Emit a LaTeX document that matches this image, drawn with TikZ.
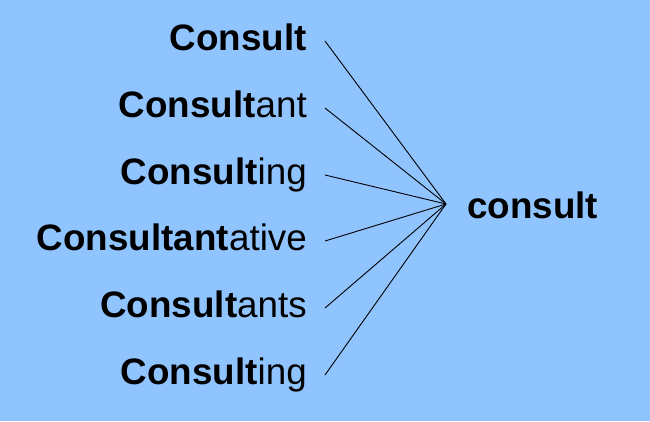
\documentclass[tikz,border=0pt]{standalone}
\usepackage{fontspec}
\setmainfont{Liberation Sans}
\definecolor{bgblue}{RGB}{144,196,255}
\begin{document}
\begin{tikzpicture}[x=1pt,y=-1pt,
  word/.style={anchor=base east,inner sep=0pt,font=\fontsize{36.8}{44}\selectfont},
  conn/.style={black,line width=0.9pt}]
\fill[bgblue] (0,0) rectangle (650,421);
\useasboundingbox (0,0) rectangle (650,421);
\node[word] (w1) at (307,50) {\textbf{Consult}};
\node[word] (w2) at (307,117) {\textbf{Consult}ant};
\node[word] (w3) at (307,184) {\textbf{Consult}ing};
\node[word] (w4) at (307,250) {\textbf{Consultant}ative};
\node[word] (w5) at (307,317) {\textbf{Consult}ants};
\node[word] (w6) at (307,384) {\textbf{Consult}ing};
\node[word,anchor=base west] (c) at (467,218) {\textbf{consult}};
\coordinate (hub) at (446,204);
\foreach \i in {1,...,6}{
  \coordinate (s\i) at ([shift={(18pt,9pt)}]w\i.base east);
  \draw[conn] (s\i) -- (hub);
}
\end{tikzpicture}
\end{document}
